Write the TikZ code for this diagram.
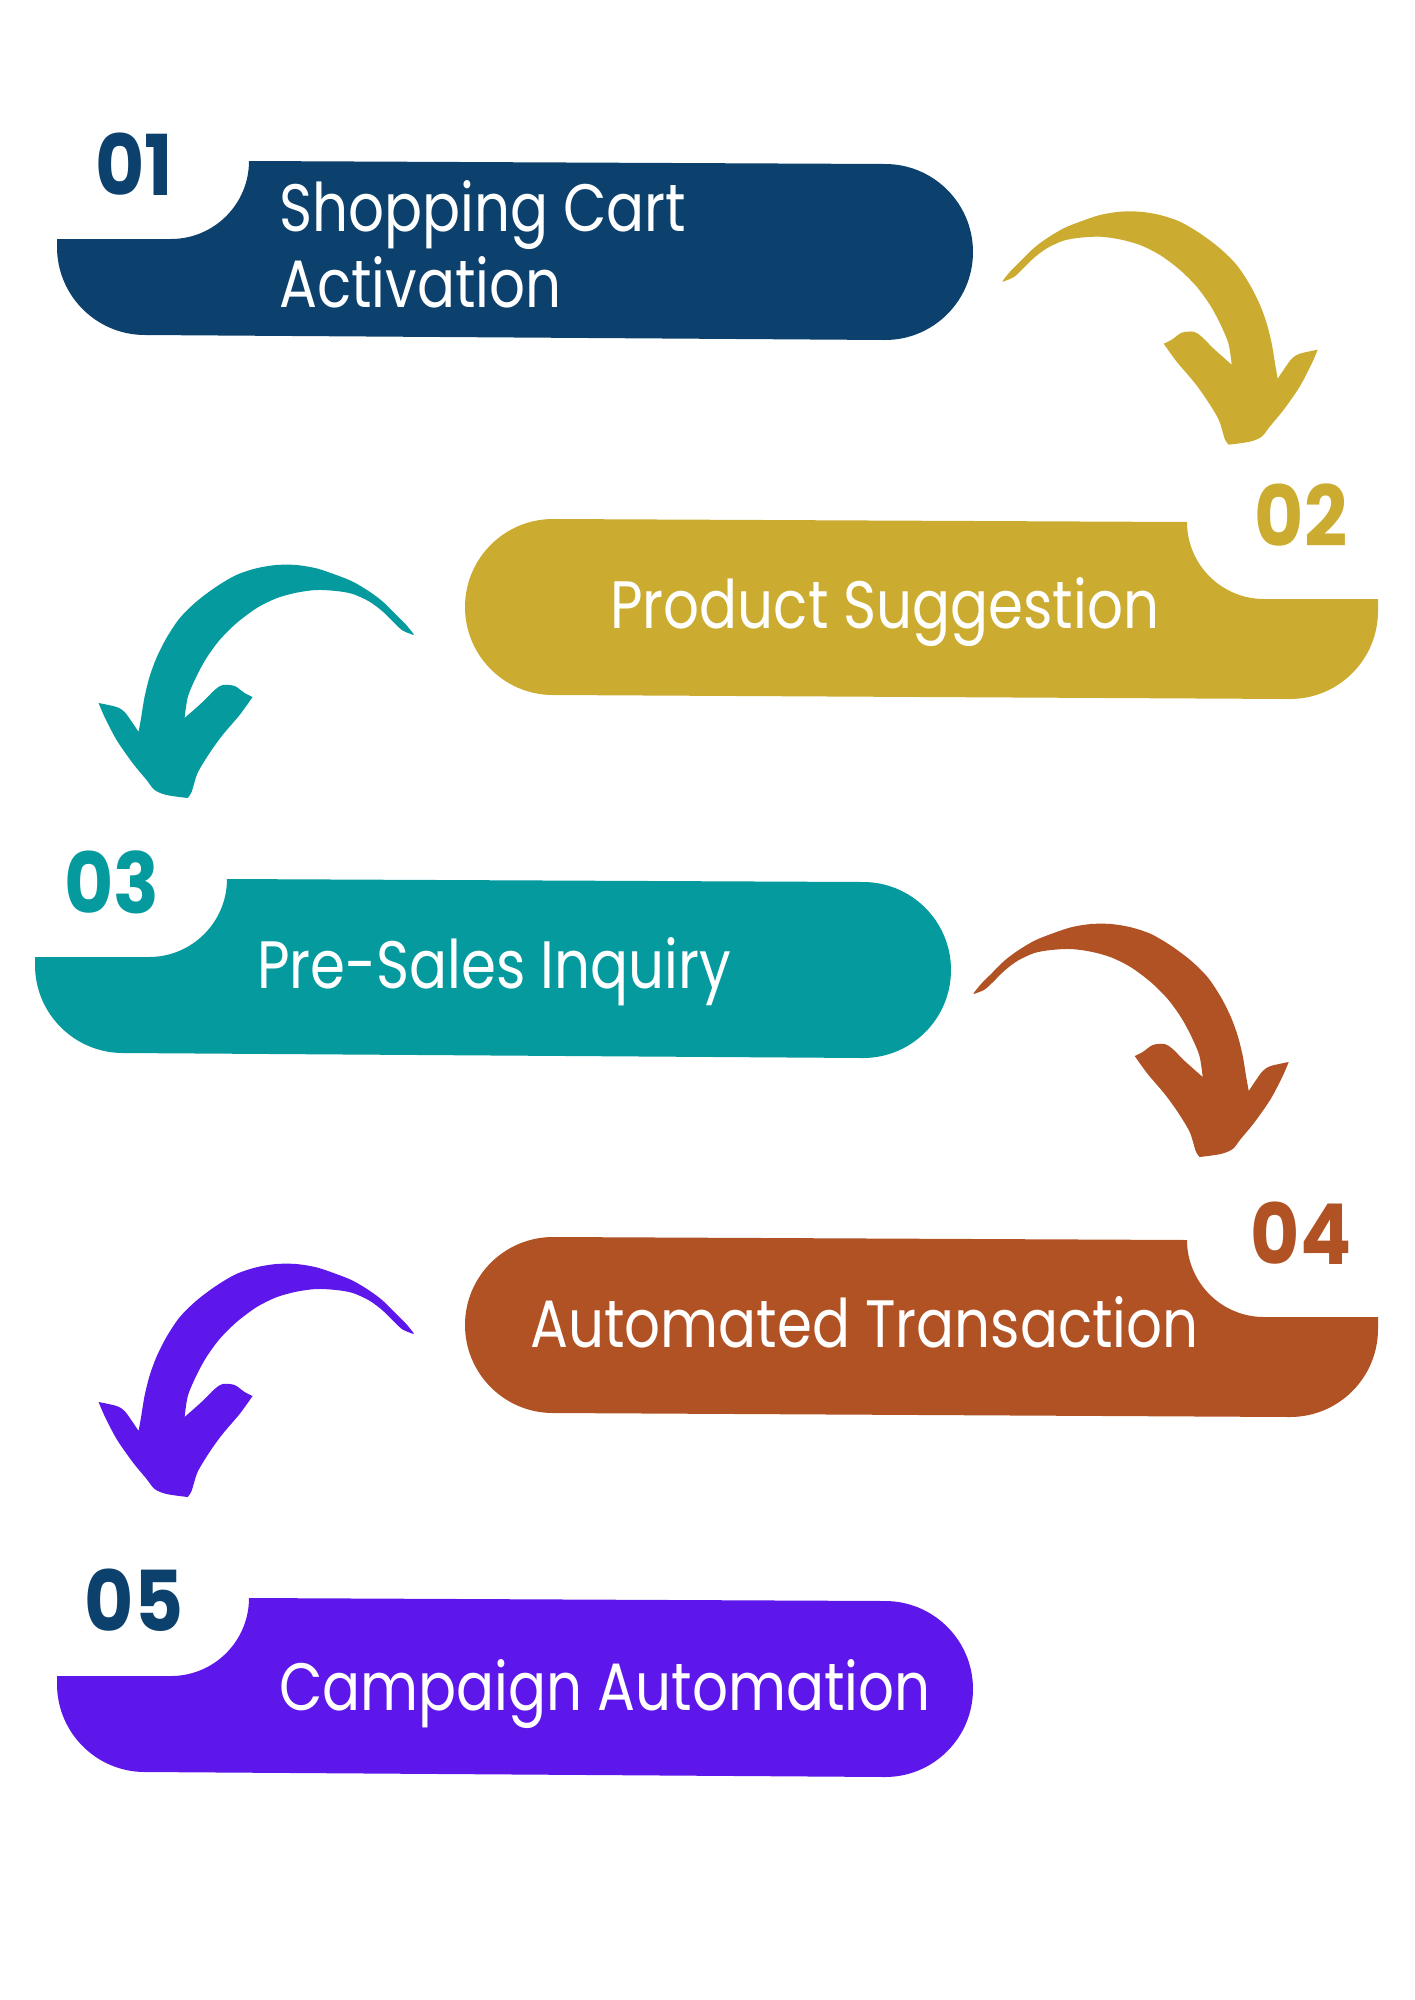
\documentclass[tikz,border=0pt]{standalone}
\usepackage{fontspec}
\newfontfamily\lblfont[FakeStretch=0.84]{Poppins}
\newfontfamily\numfont[FakeStretch=0.9]{Poppins}

\definecolor{cblue}{HTML}{0C406D}
\definecolor{cgold}{HTML}{CBAC31}
\definecolor{cteal}{HTML}{049A9E}
\definecolor{crust}{HTML}{B05224}
\definecolor{cpurple}{HTML}{5E17EB}

\begin{document}
\begin{tikzpicture}[x=1pt, y=-1pt,
  lbl/.style={font=\lblfont\fontsize{67}{76}\selectfont, text=white, inner sep=0pt, anchor=base west},
  num/.style={font=\numfont\bfseries\fontsize{84}{84}\selectfont, inner sep=0pt}]

\useasboundingbox (0,0) rectangle (1414,2000);

% banner outlines, drawn at steps 3 and 4
\def\bannerL{(227,879) -- (863,882) arc[start angle=-90, end angle=90, radius=88]
  -- (123,1053) arc[start angle=90, end angle=180, radius=88]
  -- (35,957) -- (149,957) arc[start angle=90, end angle=0, radius=78] -- cycle}
\def\bannerR{(553,1237) -- (1187,1240) arc[start angle=180, end angle=90, radius=77]
  -- (1378,1317) -- (1378,1329) arc[start angle=0, end angle=90, radius=88]
  -- (553,1413) arc[start angle=90, end angle=270, radius=88] -- cycle}

% hand drawn arrow, tail at the origin
\def\bentarrow{plot[smooth] coordinates {(0,-1) (7.3,-10) (17.3,-20) (30.7,-33.3) (44,-43.3) (60.7,-53.3) (77.3,-60) (97.3,-66.7) (117.3,-70) (137.3,-70) (157.3,-66.7) (177.3,-60) (197.3,-48.3) (217.3,-33.3) (234,-16.7) (247.3,3.3) (257.3,23.3) (264,41.7) (269,61.7) (272.3,81.7) (275,97)}
  -- plot[smooth] coordinates {(275,97) (281,88) (289,77) (297,72) (315,68)}
  -- plot[smooth] coordinates {(315,68) (309,82) (297,105) (281,128) (267,145) (259,155) (247,160) (226,163)}
  -- plot[smooth] coordinates {(226,163) (222,157) (216,138) (204,118) (191,100) (174,80) (161,62)}
  -- plot[smooth] coordinates {(161,62) (169,58) (179,51) (191,50) (199,55) (211,67) (229,83)}
  -- plot[smooth] coordinates {(229,83) (225.7,61.7) (217.3,41.7) (207.3,23.3) (194,5) (177.3,-11.7) (157.3,-26.7) (137.3,-36.7) (117.3,-42.3) (97.3,-45) (77.3,-44) (60.7,-41) (44,-33.3) (30.7,-23.3) (19,-11.7) (10.7,-4.3) (0,0)}
  -- cycle}

\fill[cblue, shift={(22,-718)}] \bannerL;
\fill[cgold, shift={(0,-718)}] \bannerR;
\fill[cteal] \bannerL;
\fill[crust] \bannerR;
\fill[cpurple, shift={(22,719)}] \bannerL;

\node[num, text=cblue] (n1) at (134,164) {01};
\node[num, text=cgold] (n2) at (1301,515) {02};
\node[num, text=cteal] (n3) at (112,882) {03};
\node[num, text=crust] (n4) at (1301,1233) {04};
\node[num, text=cblue] (n5) at (134,1600) {05};

\node[lbl] (t1a) at (279,231) {Shopping Cart};
\node[lbl] (t1b) at (279,307) {Activation};
\node[lbl] (t2) at (610,628) {Product Suggestion};
\node[lbl] (t3) at (257,988) {Pre-Sales Inquiry};
\node[lbl] (t4) at (530,1347) {Automated Transaction};
\node[lbl] (t5) at (279,1710) {Campaign Automation};

\fill[cgold, shift={(1002.7,281.7)}] \bentarrow;
\fill[cteal, shift={(413.6,635)}, xscale=-1] \bentarrow;
\fill[crust, shift={(973.7,994)}] \bentarrow;
\fill[cpurple, shift={(413.6,1334)}, xscale=-1] \bentarrow;
\end{tikzpicture}
\end{document}
